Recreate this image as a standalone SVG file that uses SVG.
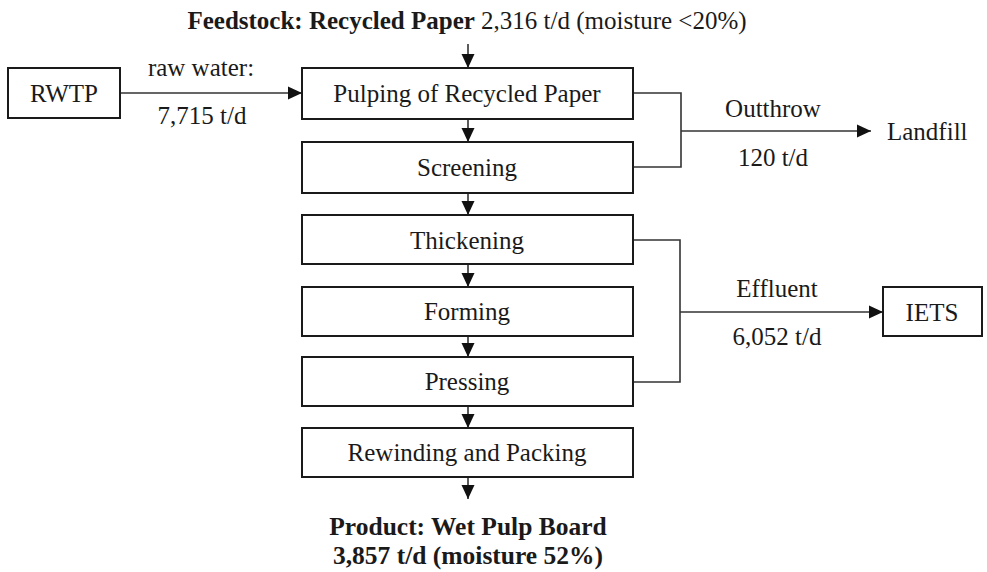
<svg xmlns="http://www.w3.org/2000/svg" width="987" height="572" viewBox="0 0 987 572">
  <style>
    .box { fill: #ffffff; stroke: #1a1a1a; stroke-width: 2; }
    .lbl { font-family: "Liberation Serif", "Times New Roman", serif; font-size: 25px; fill: #1a1a1a; text-anchor: middle; }
    .prod { font-size: 25.5px; }
    .b { font-weight: bold; }
    .wire { fill: none; stroke: #333333; stroke-width: 1.6; }
  </style>
  <defs>
    <marker id="arrow" viewBox="0 0 14 14" refX="14" refY="7" markerWidth="14" markerHeight="14" markerUnits="userSpaceOnUse" orient="auto">
      <path d="M0,0.5 L14,7 L0,13.5 Z" fill="#111111"/>
    </marker>
  </defs>

  <rect width="987" height="572" fill="#ffffff"/>

  <!-- feed and product annotations -->
  <text class="lbl" x="467" y="29"><tspan class="b">Feedstock: Recycled Paper</tspan> 2,316 t/d (moisture &lt;20%)</text>
  <text class="lbl b prod" x="468" y="535">Product: Wet Pulp Board</text>
  <text class="lbl b prod" x="468" y="564">3,857 t/d (moisture 52%)</text>

  <g id="connectors">
    <line class="wire" x1="468" y1="44" x2="468" y2="68" marker-end="url(#arrow)"/>
    <line class="wire" x1="120" y1="93" x2="302" y2="93" marker-end="url(#arrow)"/>
    <line class="wire" x1="468" y1="119" x2="468" y2="142" marker-end="url(#arrow)"/>
    <line class="wire" x1="468" y1="193" x2="468" y2="215" marker-end="url(#arrow)"/>
    <line class="wire" x1="468" y1="264" x2="468" y2="287" marker-end="url(#arrow)"/>
    <line class="wire" x1="468" y1="336" x2="468" y2="357" marker-end="url(#arrow)"/>
    <line class="wire" x1="468" y1="406" x2="468" y2="428" marker-end="url(#arrow)"/>
    <line class="wire" x1="468" y1="477" x2="468" y2="499" marker-end="url(#arrow)"/>
    <!-- outthrow collector -->
    <polyline class="wire" points="633,93 681,93 681,167 633,167"/>
    <line class="wire" x1="681" y1="131" x2="871" y2="131" marker-end="url(#arrow)"/>
    <!-- effluent collector -->
    <polyline class="wire" points="633,240 680,240 680,382 633,382"/>
    <line class="wire" x1="680" y1="312" x2="883" y2="312" marker-end="url(#arrow)"/>

    <text class="lbl" x="201" y="76">raw water:</text>
    <text class="lbl" x="202" y="124">7,715 t/d</text>
    <text class="lbl" x="773" y="117">Outthrow</text>
    <text class="lbl" x="773" y="166">120 t/d</text>
    <text class="lbl" x="777" y="297">Effluent</text>
    <text class="lbl" x="777" y="345">6,052 t/d</text>
  </g>

  <g id="rwtp">
    <rect class="box" x="8" y="68" width="112" height="50"/>
    <text class="lbl" x="64" y="102">RWTP</text>
  </g>
  <g id="pulping">
    <rect class="box" x="302" y="68" width="331" height="51"/>
    <text class="lbl" x="467" y="102">Pulping of Recycled Paper</text>
  </g>
  <g id="screening">
    <rect class="box" x="302" y="142" width="331" height="51"/>
    <text class="lbl" x="467" y="176">Screening</text>
  </g>
  <g id="thickening">
    <rect class="box" x="302" y="215" width="331" height="49"/>
    <text class="lbl" x="467" y="249">Thickening</text>
  </g>
  <g id="forming">
    <rect class="box" x="302" y="287" width="331" height="49"/>
    <text class="lbl" x="467" y="320">Forming</text>
  </g>
  <g id="pressing">
    <rect class="box" x="302" y="357" width="331" height="49"/>
    <text class="lbl" x="467" y="390">Pressing</text>
  </g>
  <g id="rewinding">
    <rect class="box" x="302" y="428" width="331" height="49"/>
    <text class="lbl" x="467" y="461">Rewinding and Packing</text>
  </g>
  <g id="landfill">
    <text class="lbl" x="887" y="140" style="text-anchor:start">Landfill</text>
  </g>
  <g id="iets">
    <rect class="box" x="883" y="287" width="99" height="49"/>
    <text class="lbl" x="932" y="321">IETS</text>
  </g>
</svg>
